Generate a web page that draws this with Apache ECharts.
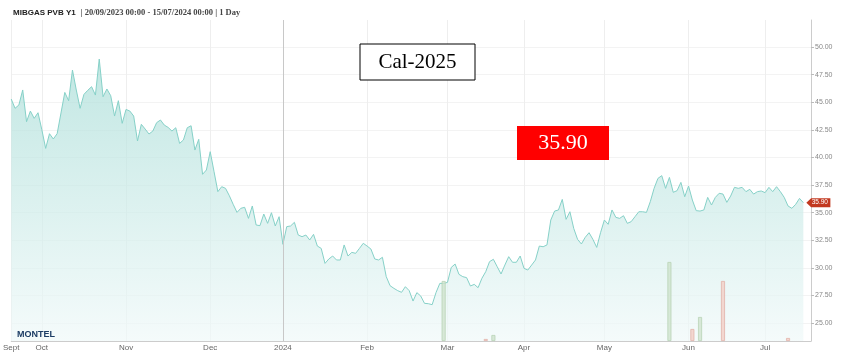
<!DOCTYPE html>
<html><head><meta charset="utf-8">
<script src="https://cdn.jsdelivr.net/npm/echarts@6/dist/echarts.min.js"></script>
<style>html,body{margin:0;padding:0;background:#fff}#c{width:841px;height:356px}</style>
</head><body><div id="c"></div>
<script>
// ---- data ----
const startDate = '2023-09-20';
const endDate = '2024-07-17'; // includes two empty trading days as right padding
const holidays = ['2023-12-25','2023-12-26','2024-01-01','2024-03-29','2024-04-01','2024-05-01'];

const prices = [
45.29,44.45,44.75,46.11,43.24,44.20,43.54,44.05,42.51,40.82,
42.15,41.67,42.15,44.02,45.89,45.14,47.92,46.11,44.45,45.71,
46.08,46.41,45.65,48.91,45.50,46.20,45.59,43.75,45.14,43.09,
44.35,44.20,43.75,41.49,43.00,42.57,42.12,42.39,43.15,43.39,
42.93,42.72,42.39,42.69,41.27,41.58,42.69,42.87,40.67,41.64,
38.47,38.86,40.52,
38.71,36.90,37.35,37.20,36.53,35.75,35.02,35.39,35.48,34.48,
35.60,33.88,33.82,34.87,34.03,34.99,33.79,34.63,32.13,33.73,
33.79,34.12,32.97,32.82,32.97,32.52,33.03,31.97,31.76,30.40,
30.80,31.07,30.71,30.71,32.07,31.07,31.40,31.31,31.76,32.22,
31.97,31.70,30.80,30.71,30.95,29.20,28.38,28.14,27.93,27.78,
28.29,
27.93,26.99,27.75,27.45,26.78,26.75,26.66,27.75,28.59,28.59,
28.68,30.04,30.34,29.41,29.20,29.11,28.35,28.50,28.20,29.05,
29.65,30.56,30.77,30.10,29.44,30.25,31.01,30.50,30.50,31.07,
29.95,29.80,30.25,30.71,31.97,31.91,32.07,34.33,35.14,35.24,
36.20,34.39,35.08,33.57,32.58,32.16,32.76,33.18,32.58,31.85,
33.18,34.33,
33.94,35.24,34.57,34.48,34.72,34.03,34.18,34.63,35.08,35.08,
35.02,35.99,37.20,38.10,38.35,37.20,38.19,36.84,36.99,37.74,
36.44,37.41,36.14,35.18,35.14,35.24,36.38,35.69,36.38,36.75,
36.68,35.93,36.50,37.29,37.20,37.29,36.90,37.11,36.68,36.90,
36.96,36.81,37.29,36.90,37.35,36.90,36.38,35.60,35.39,35.75,
36.29,35.90
];

const labelDates = ['2023-09-20','2023-10-02','2023-11-01','2023-12-01','2024-01-02','2024-02-01','2024-03-01','2024-04-02','2024-05-02','2024-06-03','2024-07-01'];
const labelTexts = ['Sept','Oct','Nov','Dec','2024','Feb','Mar','Apr','May','Jun','Jul'];
const yearDate = '2024-01-02';
const yTicks = [25,27.5,30,32.5,35,37.5,40,42.5,45,47.5,50];

const volDates = ['2024-02-29','2024-03-15','2024-03-19','2024-05-27','2024-06-04','2024-06-06','2024-06-14','2024-07-09'];
const volValues = [60,2,6,79,12,24,60,3];
const volSide = ['buy','sell','buy','buy','sell','buy','sell','sell'];

const titleMain = 'MIBGAS PVB Y1';
const titleSub = '| 20/09/2023 00:00 - 15/07/2024 00:00 | 1 Day';
const boxTitle = 'Cal-2025';
const boxPrice = '35.90';

// ---- build ----
function tradingDays(s, e, hol) {
  const out = [];
  const d = new Date(s + 'T00:00:00Z');
  const end = new Date(e + 'T00:00:00Z');
  while (d <= end) {
    const wd = d.getUTCDay();
    const iso = d.toISOString().slice(0, 10);
    if (wd !== 0 && wd !== 6 && !hol.includes(iso)) out.push(iso);
    d.setUTCDate(d.getUTCDate() + 1);
  }
  return out;
}
const dates = tradingDays(startDate, endDate, holidays);
const labelMap = new Map(labelDates.map((d, i) => [d, labelTexts[i]]));
const lastIdx = prices.length - 1;
const yearIdx = dates.indexOf(yearDate);

const narrow = "'Liberation Sans Narrow','Liberation Sans',Arial,sans-serif";

const chart = echarts.init(document.getElementById('c'), null, {renderer: 'canvas'});
chart.setOption({
  animation: false,
  backgroundColor: '#fff',
  title: {
    text: '{b|' + titleMain + '} {s|' + titleSub + '}',
    left: 13, top: 4, padding: 0,
    textStyle: {
      rich: {
        b: {fontFamily: "'Liberation Sans',Arial", fontWeight: 'bold', fontSize: 8, color: '#222'},
        s: {fontFamily: "'Liberation Serif',serif", fontSize: 8.5, color: '#444'}
      }
    }
  },
  grid: {left: 9.3, right: 30, top: 20, bottom: 15, containLabel: false},
  xAxis: {
    type: 'category', data: dates, boundaryGap: false,
    axisLine: {lineStyle: {color: '#cccccc'}},
    axisTick: {show: false},
    axisLabel: {
      interval: (i, v) => labelMap.has(v),
      formatter: v => labelMap.get(v) || '',
      color: '#666', fontSize: 8, margin: 3, fontFamily: narrow
    },
    splitLine: {show: true, interval: (i, v) => labelMap.has(v) && v !== yearDate, lineStyle: {color: '#eeeeee'}}
  },
  yAxis: [{
    type: 'value', position: 'right', min: 23.37, max: 52.45,
    axisLine: {show: true, lineStyle: {color: '#cccccc'}},
    axisTick: {show: true, customValues: yTicks, length: 3, lineStyle: {color: '#bbbbbb'}},
    axisLabel: {customValues: yTicks, formatter: v => v.toFixed(2), color: '#888', fontSize: 7, margin: 4, fontFamily: narrow},
    splitLine: {show: true, lineStyle: {color: '#f3f3f3'}}
  }, {
    type: 'value', min: 0, max: 321, show: false
  }],
  series: [{
    type: 'line', data: prices, showSymbol: false, symbol: 'none', z: 2,
    lineStyle: {width: 1, color: '#86d1c8'},
    areaStyle: {
      color: new echarts.graphic.LinearGradient(0, 0, 0, 1, [
        {offset: 0, color: 'rgb(168,221,215)'},
        {offset: 1, color: 'rgb(240,249,249)'}
      ])
    },
    markLine: {
      silent: true, symbol: 'none', label: {show: false},
      lineStyle: {color: '#c8c8c8', width: 1, type: 'solid'},
      data: [{xAxis: yearIdx - 0.5}]
    },
    markPoint: {
      symbol: 'path://M0,5L6,0L30,0L30,10L6,10Z',
      symbolSize: [24, 9], symbolOffset: [15, 0], symbolKeepAspect: false,
      itemStyle: {color: '#c2381f'},
      label: {show: true, color: '#fff', fontSize: 6.5, offset: [1.5, 0], fontFamily: narrow,
        formatter: () => prices[lastIdx].toFixed(2)},
      data: [{coord: [dates[lastIdx], prices[lastIdx]]}]
    }
  }, {
    type: 'bar', yAxisIndex: 1, barWidth: 4, z: 3,
    data: volDates.map((d, i) => ({
      value: [d, volValues[i]],
      itemStyle: volSide[i] === 'buy'
        ? {color: 'rgba(205,226,203,0.75)', borderColor: '#b9d3b6', borderWidth: 0.8}
        : {color: 'rgba(242,206,198,0.8)', borderColor: '#e2b3aa', borderWidth: 0.8}
    }))
  }],
  graphic: [
    {type: 'rect', shape: {x: 360, y: 44, width: 115, height: 36}, style: {fill: '#fff', stroke: '#000', lineWidth: 1}, z: 100},
    {type: 'text', x: 417.5, y: 62.5, style: {text: boxTitle, font: "21px 'Liberation Serif',serif", fill: '#000', align: 'center', verticalAlign: 'middle'}, z: 101},
    {type: 'rect', shape: {x: 517, y: 126, width: 92, height: 34}, style: {fill: '#ff0000'}, z: 100},
    {type: 'text', x: 563, y: 143.5, style: {text: boxPrice, font: "22px 'Liberation Serif',serif", fill: '#fff', align: 'center', verticalAlign: 'middle'}, z: 101},
    {type: 'text', x: 17, y: 334.5, style: {text: 'MONTEL', font: "bold 9px 'Liberation Sans',Arial", fill: '#1c3c64', align: 'left', verticalAlign: 'middle'}, z: 101}
  ]
});
</script>
</body></html>
